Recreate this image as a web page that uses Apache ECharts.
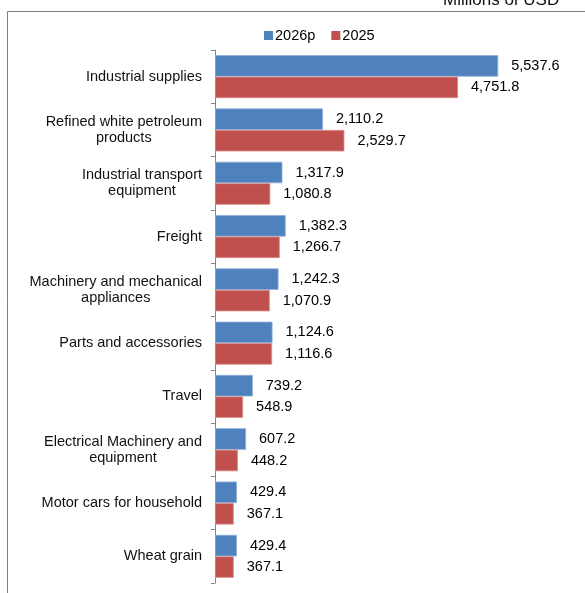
<!DOCTYPE html>
<html>
<head>
<meta charset="utf-8">
<script src="https://cdn.jsdelivr.net/npm/echarts@6/dist/echarts.min.js"></script>
<style>
  html, body { margin: 0; padding: 0; background: #fff; }
  #chart { width: 585px; height: 593px; }
</style>
</head>
<body>
<div id="chart"></div>
<script>
// data, top to bottom
var categories = [
  'Industrial supplies',
  'Refined white petroleum\nproducts',
  'Industrial transport\nequipment',
  'Freight',
  'Machinery and mechanical\nappliances',
  'Parts and accessories',
  'Travel',
  'Electrical Machinery and\nequipment',
  'Motor cars for household',
  'Wheat grain'
];
var values2026p = [5537.6, 2110.2, 1317.9, 1382.3, 1242.3, 1124.6, 739.2, 607.2, 429.4, 429.4];
var values2025 = [4751.8, 2529.7, 1080.8, 1266.7, 1070.9, 1116.6, 548.9, 448.2, 367.1, 367.1];

var FONT = 'Liberation Sans, Arial, sans-serif';
var FS = 14.5;

function fmt(v) {
  return v.toLocaleString('en-US', { minimumFractionDigits: 1, maximumFractionDigits: 1 });
}

var chart = echarts.init(document.getElementById('chart'));

var option = {
  animation: false,
  textStyle: { fontFamily: FONT },
  legend: {
    data: ['2026p', '2025'],
    left: 259,
    top: 23,
    itemWidth: 9,
    itemHeight: 9,
    itemGap: 16,
    icon: 'rect',
    itemStyle: { borderWidth: 0 },
    textStyle: { fontSize: FS, color: '#000', fontFamily: FONT, padding: [0, 0, 0, -3] }
  },
  grid: { left: 215, right: 12, top: 50, bottom: 10, containLabel: false },
  xAxis: {
    type: 'value',
    min: 0,
    max: 7000,
    show: false
  },
  yAxis: {
    type: 'category',
    inverse: true,
    data: categories,
    axisLine: { show: true, lineStyle: { color: '#868686', width: 1 } },
    axisTick: { show: true, length: 4, lineStyle: { color: '#868686' } },
    axisLabel: {
      margin: 13,
      color: '#111',
      fontSize: FS,
      fontFamily: FONT,
      lineHeight: 16,
      formatter: function (v) {
        return v.split('\n').map(function (s) { return '{c|' + s + '}'; }).join('\n');
      },
      rich: { c: { align: 'center', fontSize: FS, lineHeight: 16, color: '#111', fontFamily: FONT } }
    }
  },
  series: [
    {
      name: '2026p',
      type: 'bar',
      data: values2026p,
      barWidth: 21.5,
      barGap: '0%',
      itemStyle: { color: '#4F81BD', borderColor: '#8EB0DB', borderWidth: 0.8 },
      label: {
        show: true, position: 'right', distance: 13,
        color: '#000', fontSize: FS, fontFamily: FONT,
        formatter: function (p) { return fmt(p.value); }
      }
    },
    {
      name: '2025',
      type: 'bar',
      data: values2025,
      barWidth: 21.5,
      itemStyle: { color: '#C0504D', borderColor: '#DA8F8D', borderWidth: 0.8 },
      label: {
        show: true, position: 'right', distance: 13,
        color: '#000', fontSize: FS, fontFamily: FONT,
        formatter: function (p) { return fmt(p.value); }
      }
    }
  ],
  graphic: [
    { type: 'line', shape: { x1: 7.5, y1: 11.5, x2: 585, y2: 11.5 }, style: { stroke: '#7f7f7f', lineWidth: 1 } },
    { type: 'line', shape: { x1: 7.5, y1: 11.5, x2: 7.5, y2: 593 }, style: { stroke: '#7f7f7f', lineWidth: 1 } },
    {
      type: 'text', left: 443, top: -8,
      style: { text: 'Millions of USD', fontSize: 17, fontFamily: FONT, fill: '#111' }
    }
  ]
};

chart.setOption(option);
</script>
</body>
</html>
